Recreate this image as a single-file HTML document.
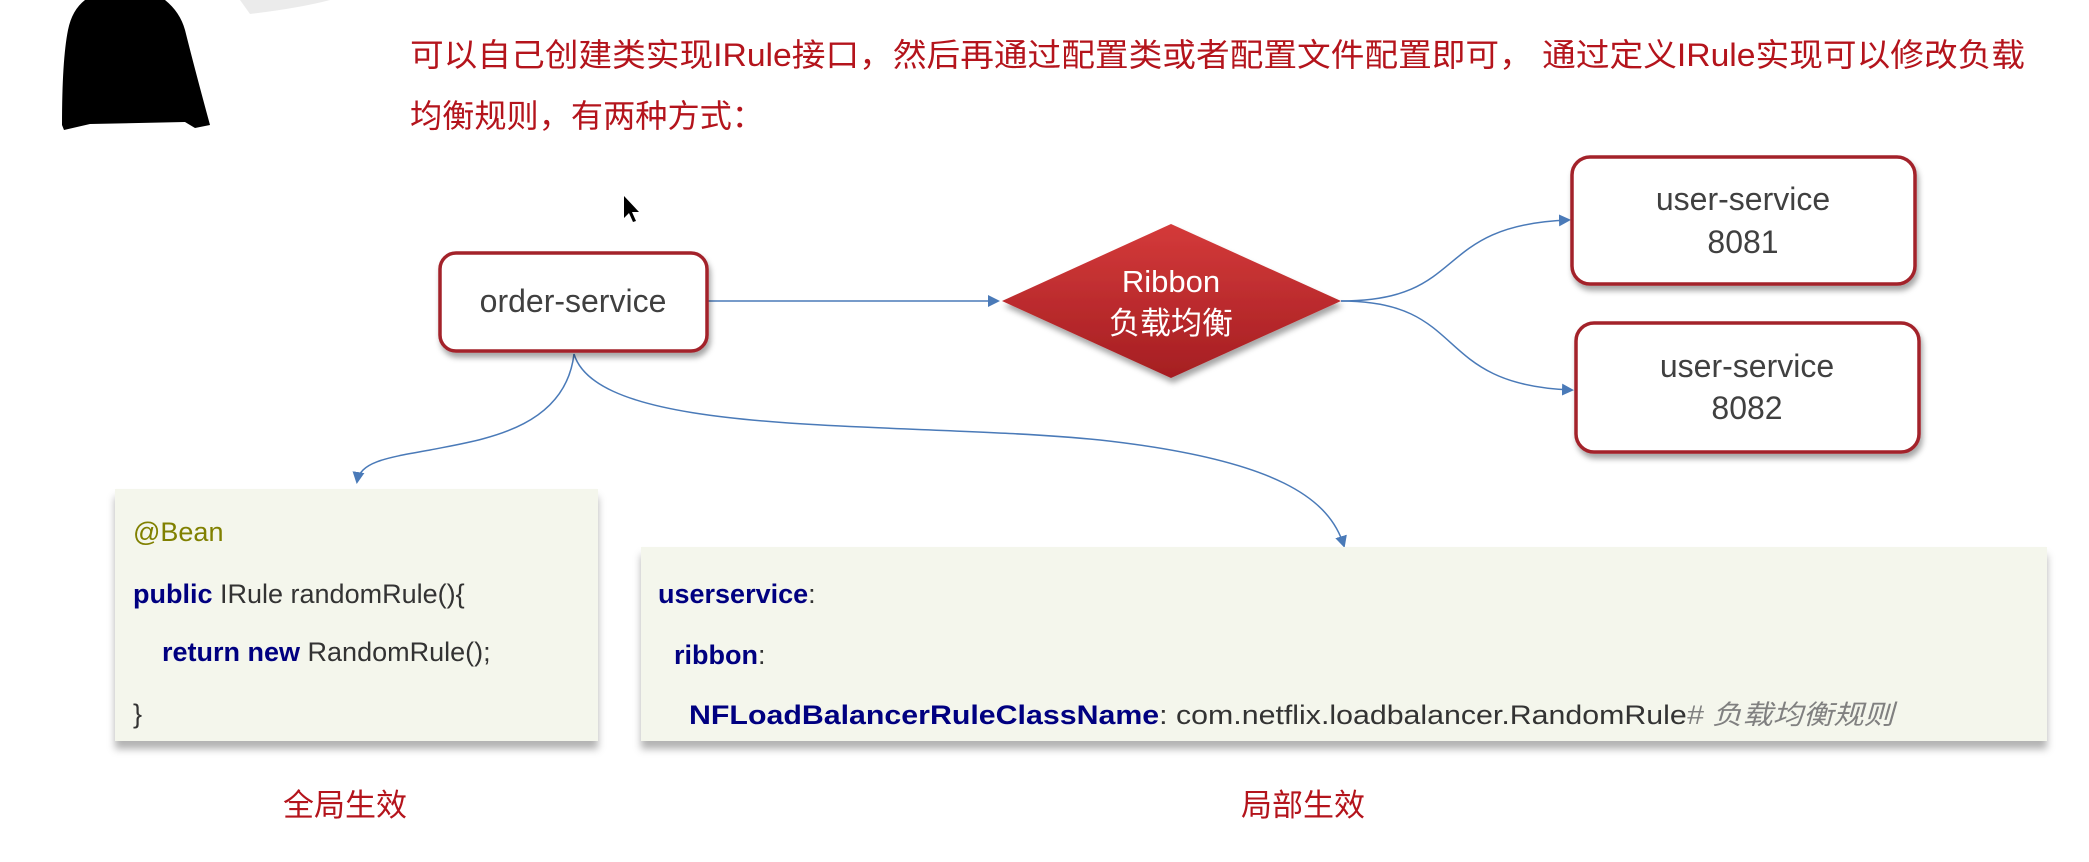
<!DOCTYPE html>
<html><head><meta charset="utf-8"><style>
html,body{margin:0;padding:0;background:#fff;}
svg{display:block;}
text{font-family:"Liberation Sans","Noto Sans CJK SC",sans-serif;}
</style></head><body>
<svg width="2089" height="862" viewBox="0 0 2089 862" xmlns="http://www.w3.org/2000/svg">
<defs>
<filter id="sh" x="-10%" y="-10%" width="130%" height="140%"><feDropShadow dx="2" dy="5" stdDeviation="3" flood-color="#000" flood-opacity="0.35"/></filter>
<filter id="sh2" x="-5%" y="-10%" width="110%" height="130%"><feDropShadow dx="0" dy="8" stdDeviation="4" flood-color="#000" flood-opacity="0.3"/></filter>
<linearGradient id="dg" x1="0" y1="0" x2="0" y2="1"><stop offset="0" stop-color="#d43a3a"/><stop offset="1" stop-color="#a51e22"/></linearGradient>
<marker id="ar" markerWidth="12" markerHeight="12" refX="10" refY="6" orient="auto" markerUnits="userSpaceOnUse"><path d="M0,0 L12,6 L0,12 z" fill="#4a7ab8"/></marker>
</defs>
<!-- silhouette -->
<path d="M240,0 L330,0 Q300,8 250,14 Z" fill="#ddd" opacity="0.6"/>
<path d="M85,0 L165,0 Q180,12 185,30 Q195,70 210,125 L195,128 L185,122 L90,124 L64,130 L62,125 Q62,60 68,30 Q72,10 85,0 Z" fill="#000"/>
<!-- title -->
<text x="410" y="66" font-size="32" fill="#b4141c" textLength="1615" lengthAdjust="spacingAndGlyphs">可以自己创建类实现IRule接口，然后再通过配置类或者配置文件配置即可， 通过定义IRule实现可以修改负载</text>
<text x="410" y="127" font-size="32" fill="#b4141c" textLength="354" lengthAdjust="spacingAndGlyphs">均衡规则，有两种方式：</text>
<!-- cursor -->
<path d="M624,196 L624,218 L629,213 L633,222 L636,221 L632,212 L639,212 Z" fill="#000"/>
<!-- connectors -->
<path d="M707,301 L998,301" stroke="#4a7ab8" stroke-width="1.5" fill="none" marker-end="url(#ar)"/>
<path d="M1341,301 C1470,301 1430,225 1569,220" stroke="#4a7ab8" stroke-width="1.5" fill="none" marker-end="url(#ar)"/>
<path d="M1341,301 C1470,301 1430,385 1572,390" stroke="#4a7ab8" stroke-width="1.5" fill="none" marker-end="url(#ar)"/>
<path d="M574,354 C565,430 480,440 430,450 C385,458 360,462 357,482" stroke="#4a7ab8" stroke-width="1.5" fill="none" marker-end="url(#ar)"/>
<path d="M574,354 C600,440 900,420 1100,440 C1280,460 1330,500 1344,546" stroke="#4a7ab8" stroke-width="1.5" fill="none" marker-end="url(#ar)"/>
<!-- order-service -->
<rect x="440" y="253" width="267" height="98" rx="16" fill="#fff" stroke="#a3232a" stroke-width="3.5" filter="url(#sh)"/>
<text x="573" y="312" font-size="32" fill="#404040" text-anchor="middle">order-service</text>
<!-- diamond -->
<path d="M1171,224 L1341,301 L1171,378 L1002,301 Z" fill="url(#dg)" filter="url(#sh)"/>
<text x="1171" y="292" font-size="31" fill="#fff" text-anchor="middle">Ribbon</text>
<text x="1171" y="334" font-size="31" fill="#fff" text-anchor="middle">负载均衡</text>
<!-- user services -->
<rect x="1572" y="157" width="343" height="127" rx="18" fill="#fff" stroke="#a3232a" stroke-width="3.5" filter="url(#sh)"/>
<text x="1743" y="210" font-size="32" fill="#404040" text-anchor="middle">user-service</text>
<text x="1743" y="253" font-size="32" fill="#404040" text-anchor="middle">8081</text>
<rect x="1576" y="323" width="343" height="129" rx="18" fill="#fff" stroke="#a3232a" stroke-width="3.5" filter="url(#sh)"/>
<text x="1747" y="377" font-size="32" fill="#404040" text-anchor="middle">user-service</text>
<text x="1747" y="419" font-size="32" fill="#404040" text-anchor="middle">8082</text>
<!-- code boxes -->
<rect x="115" y="489" width="483" height="252" fill="#f4f6ec" filter="url(#sh2)"/>
<text x="133" y="541" font-size="27" fill="#808000">@Bean</text>
<text x="133" y="603" font-size="27" fill="#333"><tspan fill="#000080" font-weight="bold">public</tspan> IRule randomRule(){</text>
<text x="162" y="661" font-size="27" fill="#333"><tspan fill="#000080" font-weight="bold">return new</tspan> RandomRule();</text>
<text x="133" y="723" font-size="27" fill="#333">}</text>
<rect x="641" y="547" width="1406" height="194" fill="#f4f6ec" filter="url(#sh2)"/>
<text x="658" y="603" font-size="27" fill="#333"><tspan fill="#000080" font-weight="bold">userservice</tspan>:</text>
<text x="674" y="664" font-size="27" fill="#333"><tspan fill="#000080" font-weight="bold">ribbon</tspan>:</text>
<text x="689" y="724" font-size="27" fill="#333" textLength="1205" lengthAdjust="spacingAndGlyphs"><tspan fill="#000080" font-weight="bold">NFLoadBalancerRuleClassName</tspan>: com.netflix.loadbalancer.RandomRule<tspan fill="#808080" font-style="italic"># 负载均衡规则</tspan></text>
<!-- labels -->
<text x="345" y="816" font-size="31" fill="#b4141c" text-anchor="middle">全局生效</text>
<text x="1303" y="816" font-size="31" fill="#b4141c" text-anchor="middle">局部生效</text>
</svg>
</body></html>
